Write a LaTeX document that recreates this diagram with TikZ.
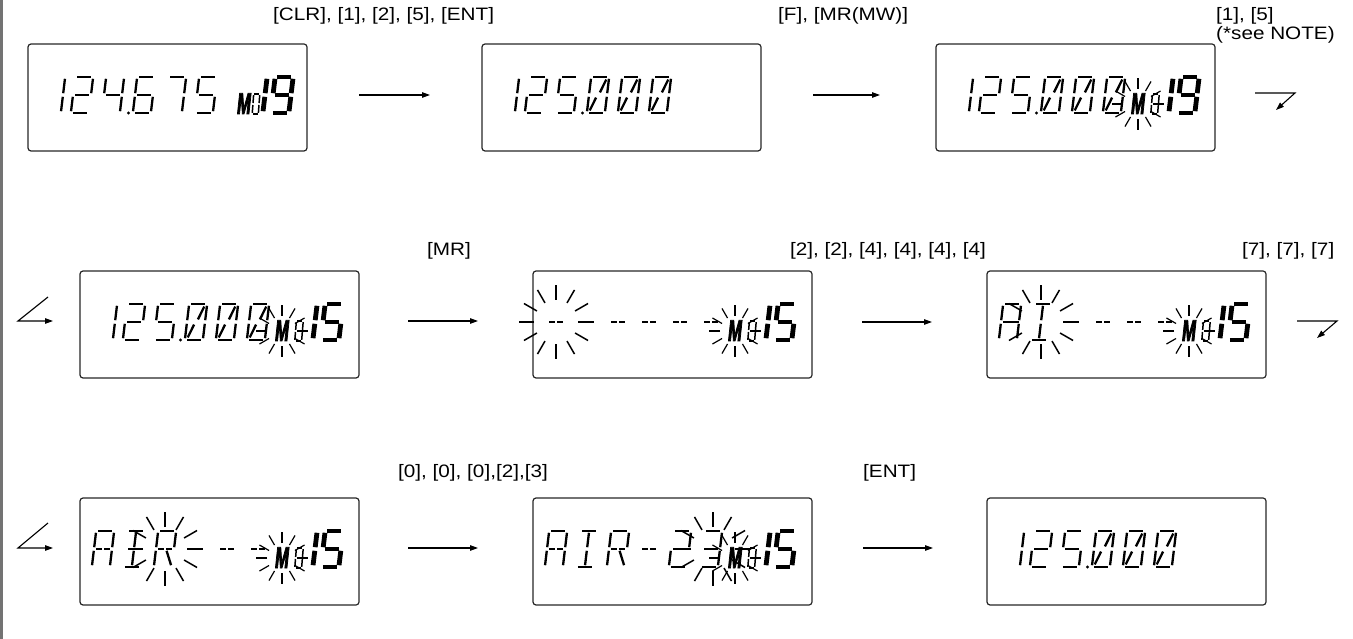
\documentclass[tikz,border=0pt]{standalone}
\usepackage{fontspec}
\setmainfont{Liberation Sans}[FakeStretch=1.15]
\newfontfamily\mfont{Liberation Sans}[FakeStretch=0.55,FakeBold=2.5]
\usetikzlibrary{arrows.meta}
\tikzset{
 sa/.style={insert path={(-7,-18)--(7,-18)}},
 sb/.style={insert path={(9,-16.2)--(9,-1.8)}},
 sc/.style={insert path={(9,1.8)--(9,16.2)}},
 sd/.style={insert path={(-7,18)--(7,18)}},
 se/.style={insert path={(-9,1.8)--(-9,16.2)}},
 sf/.style={insert path={(-9,-16.2)--(-9,-1.8)}},
 sg/.style={insert path={(-7,0)--(7,0)}},
 sg1/.style={insert path={(-7,0)--(-1.3,0)}},
 sg2/.style={insert path={(1.3,0)--(7,0)}},
 sh/.style={insert path={(0,-16.2)--(0,-1.8)}},
 si/.style={insert path={(0,1.8)--(0,16.2)}},
 sk1/.style={insert path={(1.6,-2.6)--(6.4,-15.4)}},
 sk2/.style={insert path={(-1.6,2.6)--(-6.4,15.4)}},
 sl/.style={insert path={(1.8,1.8)--(8,16.2)}},
 segline/.style={line width=2.3pt,line cap=butt},
 boldseg/.style={line width=4.8pt,line cap=butt},
 smallseg/.style={line width=1.5pt,line cap=butt},
 ray/.style={line width=1.5pt},
 sray/.style={line width=1.2pt},
 lcdbox/.style={draw=black!85,line width=1.2pt,rounded corners=3pt,minimum width=279pt,minimum height=107pt,anchor=north west,inner sep=0pt,outer sep=0pt},
 lbl/.style={font=\fontsize{18}{21}\selectfont,anchor=base west,inner sep=0pt},
 mtext/.style={font=\mfont\fontsize{30}{30}\selectfont\bfseries\itshape,anchor=base,inner sep=0pt},
 flow/.style={line width=1.1pt,-{Triangle[length=8pt,width=5.5pt]}},
}
\expandafter\def\csname dg0\endcsname{a,b,c,d,e,f,k1,k2}
\expandafter\def\csname dgo\endcsname{a,b,c,d,e,f}
\expandafter\def\csname dg1\endcsname{b,c}
\expandafter\def\csname dg2\endcsname{a,b,g,e,d}
\expandafter\def\csname dg3\endcsname{a,b,g,c,d}
\expandafter\def\csname dg4\endcsname{f,g,b,c}
\expandafter\def\csname dg5\endcsname{a,f,g,c,d}
\expandafter\def\csname dg6\endcsname{a,f,g,e,d,c}
\expandafter\def\csname dg7\endcsname{a,b,c}
\expandafter\def\csname dg9\endcsname{a,b,c,d,f,g}
\expandafter\def\csname dgA\endcsname{a,b,c,e,f,g1,g2}
\expandafter\def\csname dgI\endcsname{a,d,h,i}
\expandafter\def\csname dgR\endcsname{a,b,f,e,g1,g2,l}
\expandafter\def\csname dg-\endcsname{g1,g2}
% #1 style, #2 scope opts, #3 x, #4 y, #5 char
\newcommand\lcdch[5]{\begin{scope}[shift={(#3,#4)},#2,xslant=0.12]%
 \edef\lcdlist{\csname dg#5\endcsname}%
 \foreach\q in \lcdlist{\draw[#1] [s\q];}\end{scope}}
\newcommand\ch[2]{\lcdch{segline}{}{#1}{51}{#2}}
\newcommand\flash[5][ray]{\begin{scope}[shift={(#2,#3)}]\foreach\t in {0,30,...,330}{\draw[#1] (\t:#4pt)--(\t:#5pt);}\end{scope}}
\newcommand\freq[6]{\ch{26}{#1}\ch{54}{#2}\ch{85}{#3}\fill (100.5,69) circle (1.7pt);\ch{116}{#4}\ch{147}{#5}\ch{178}{#6}}
\newcommand\chan[2]{% name, digit
 \node[mtext] (#1) at (202,70) {M};
 \lcdch{smallseg}{xscale=0.38,yscale=0.55}{219}{60}{o}
 \lcdch{boldseg}{}{226}{51}{1}
 \lcdch{boldseg}{}{252}{51}{#2}
 \flash[sray]{202}{60}{15}{26}}
\begin{document}
\begin{tikzpicture}[x=1pt,y=-1pt]
\useasboundingbox (0,0) rectangle (1353,639);
\draw[black!55,line width=2.5pt] (1.3,0)--(1.3,639);
% boxes
\node[lcdbox] (b1) at (28,44) {};
\node[lcdbox] (b2) at (482,44) {};
\node[lcdbox] (b3) at (936,44) {};
\node[lcdbox] (b4) at (80,271) {};
\node[lcdbox] (b5) at (533,271) {};
\node[lcdbox] (b6) at (987,271) {};
\node[lcdbox] (b7) at (80,498) {};
\node[lcdbox] (b8) at (533,498) {};
\node[lcdbox] (b9) at (987,498) {};
% box 1
\begin{scope}[shift={(28,44)}]
 \freq{1}{2}{4}{6}{7}{5}
 \node[mtext] (m1) at (216,70) {M};
 \lcdch{smallseg}{xscale=0.34,yscale=0.55}{228}{60}{o}
 \lcdch{boldseg}{}{228}{51}{1}
 \lcdch{boldseg}{}{254}{51}{9}
\end{scope}
\begin{scope}[shift={(482,44)}]\freq{1}{2}{5}{0}{0}{0}\end{scope}
\begin{scope}[shift={(936,44)}]\freq{1}{2}{5}{0}{0}{0}\chan{m3}{9}\end{scope}
\begin{scope}[shift={(80,271)}]\freq{1}{2}{5}{0}{0}{0}\chan{m4}{5}\end{scope}
\begin{scope}[shift={(533,271)}]
 \ch{23}{-}\ch{54}{-}\ch{85}{-}\ch{116}{-}\ch{147}{-}\ch{178}{-}
 \flash{23}{51}{22}{37}\chan{m5}{5}\end{scope}
\begin{scope}[shift={(987,271)}]
 \ch{23}{A}\ch{54}{I}\ch{85}{-}\ch{116}{-}\ch{147}{-}\ch{178}{-}
 \flash{54}{51}{22}{37}\chan{m6}{5}\end{scope}
\begin{scope}[shift={(80,498)}]
 \ch{23}{A}\ch{54}{I}\ch{85}{R}\ch{116}{-}\ch{147}{-}\ch{178}{-}
 \flash{85}{51}{22}{37}\chan{m7}{5}\end{scope}
\begin{scope}[shift={(533,498)}]
 \ch{23}{A}\ch{54}{I}\ch{85}{R}\ch{116}{-}\ch{147}{2}\ch{178}{3}
 \flash{180}{51}{22}{37}\chan{m8}{5}\end{scope}
\begin{scope}[shift={(987,498)}]\freq{1}{2}{5}{0}{0}{0}\end{scope}
% labels
\node[lbl] (l1) at (273,21) {[CLR], [1], [2], [5], [ENT]};
\node[lbl] (l2) at (778,21) {[F], [MR(MW)]};
\node[lbl] (l3) at (1216,21) {[1], [5]};
\node[lbl] (l4) at (1216,40) {(*see NOTE)};
\node[lbl] (l5) at (427,256) {[MR]};
\node[lbl] (l6) at (790,256) {[2], [2], [4], [4], [4], [4]};
\node[lbl] (l7) at (1242,256) {[7], [7], [7]};
\node[lbl] (l8) at (398,477) {[0], [0], [0],[2],[3]};
\node[lbl] (l9) at (863,477) {[ENT]};
% arrows
\coordinate (a1s) at (359,95); \coordinate (a1e) at (430,95);
\coordinate (a2s) at (813,95); \coordinate (a2e) at (880,95);
\coordinate (a3s) at (408,321); \coordinate (a3e) at (478,321);
\coordinate (a4s) at (862,322); \coordinate (a4e) at (932,322);
\coordinate (a5s) at (408,548); \coordinate (a5e) at (478,548);
\coordinate (a6s) at (863,548); \coordinate (a6e) at (933,548);
\draw[flow] (a1s)--(a1e);
\draw[flow] (a2s)--(a2e);
\draw[flow] (a3s)--(a3e);
\draw[flow] (a4s)--(a4e);
\draw[flow] (a5s)--(a5e);
\draw[flow] (a6s)--(a6e);
\coordinate (r1a) at (1255,93); \coordinate (r1b) at (1295,93); \coordinate (r1c) at (1276,110);
\coordinate (r2a) at (1297,321); \coordinate (r2b) at (1337,321); \coordinate (r2c) at (1317,338);
\coordinate (s2a) at (48,297); \coordinate (s2b) at (18,321); \coordinate (s2c) at (53,321);
\coordinate (s3a) at (48,523); \coordinate (s3b) at (18,548); \coordinate (s3c) at (53,548);
\draw[flow] (r1a)--(r1b)--(r1c);
\draw[flow] (r2a)--(r2b)--(r2c);
\draw[flow] (s2a)--(s2b)--(s2c);
\draw[flow] (s3a)--(s3b)--(s3c);
\end{tikzpicture}
\end{document}
